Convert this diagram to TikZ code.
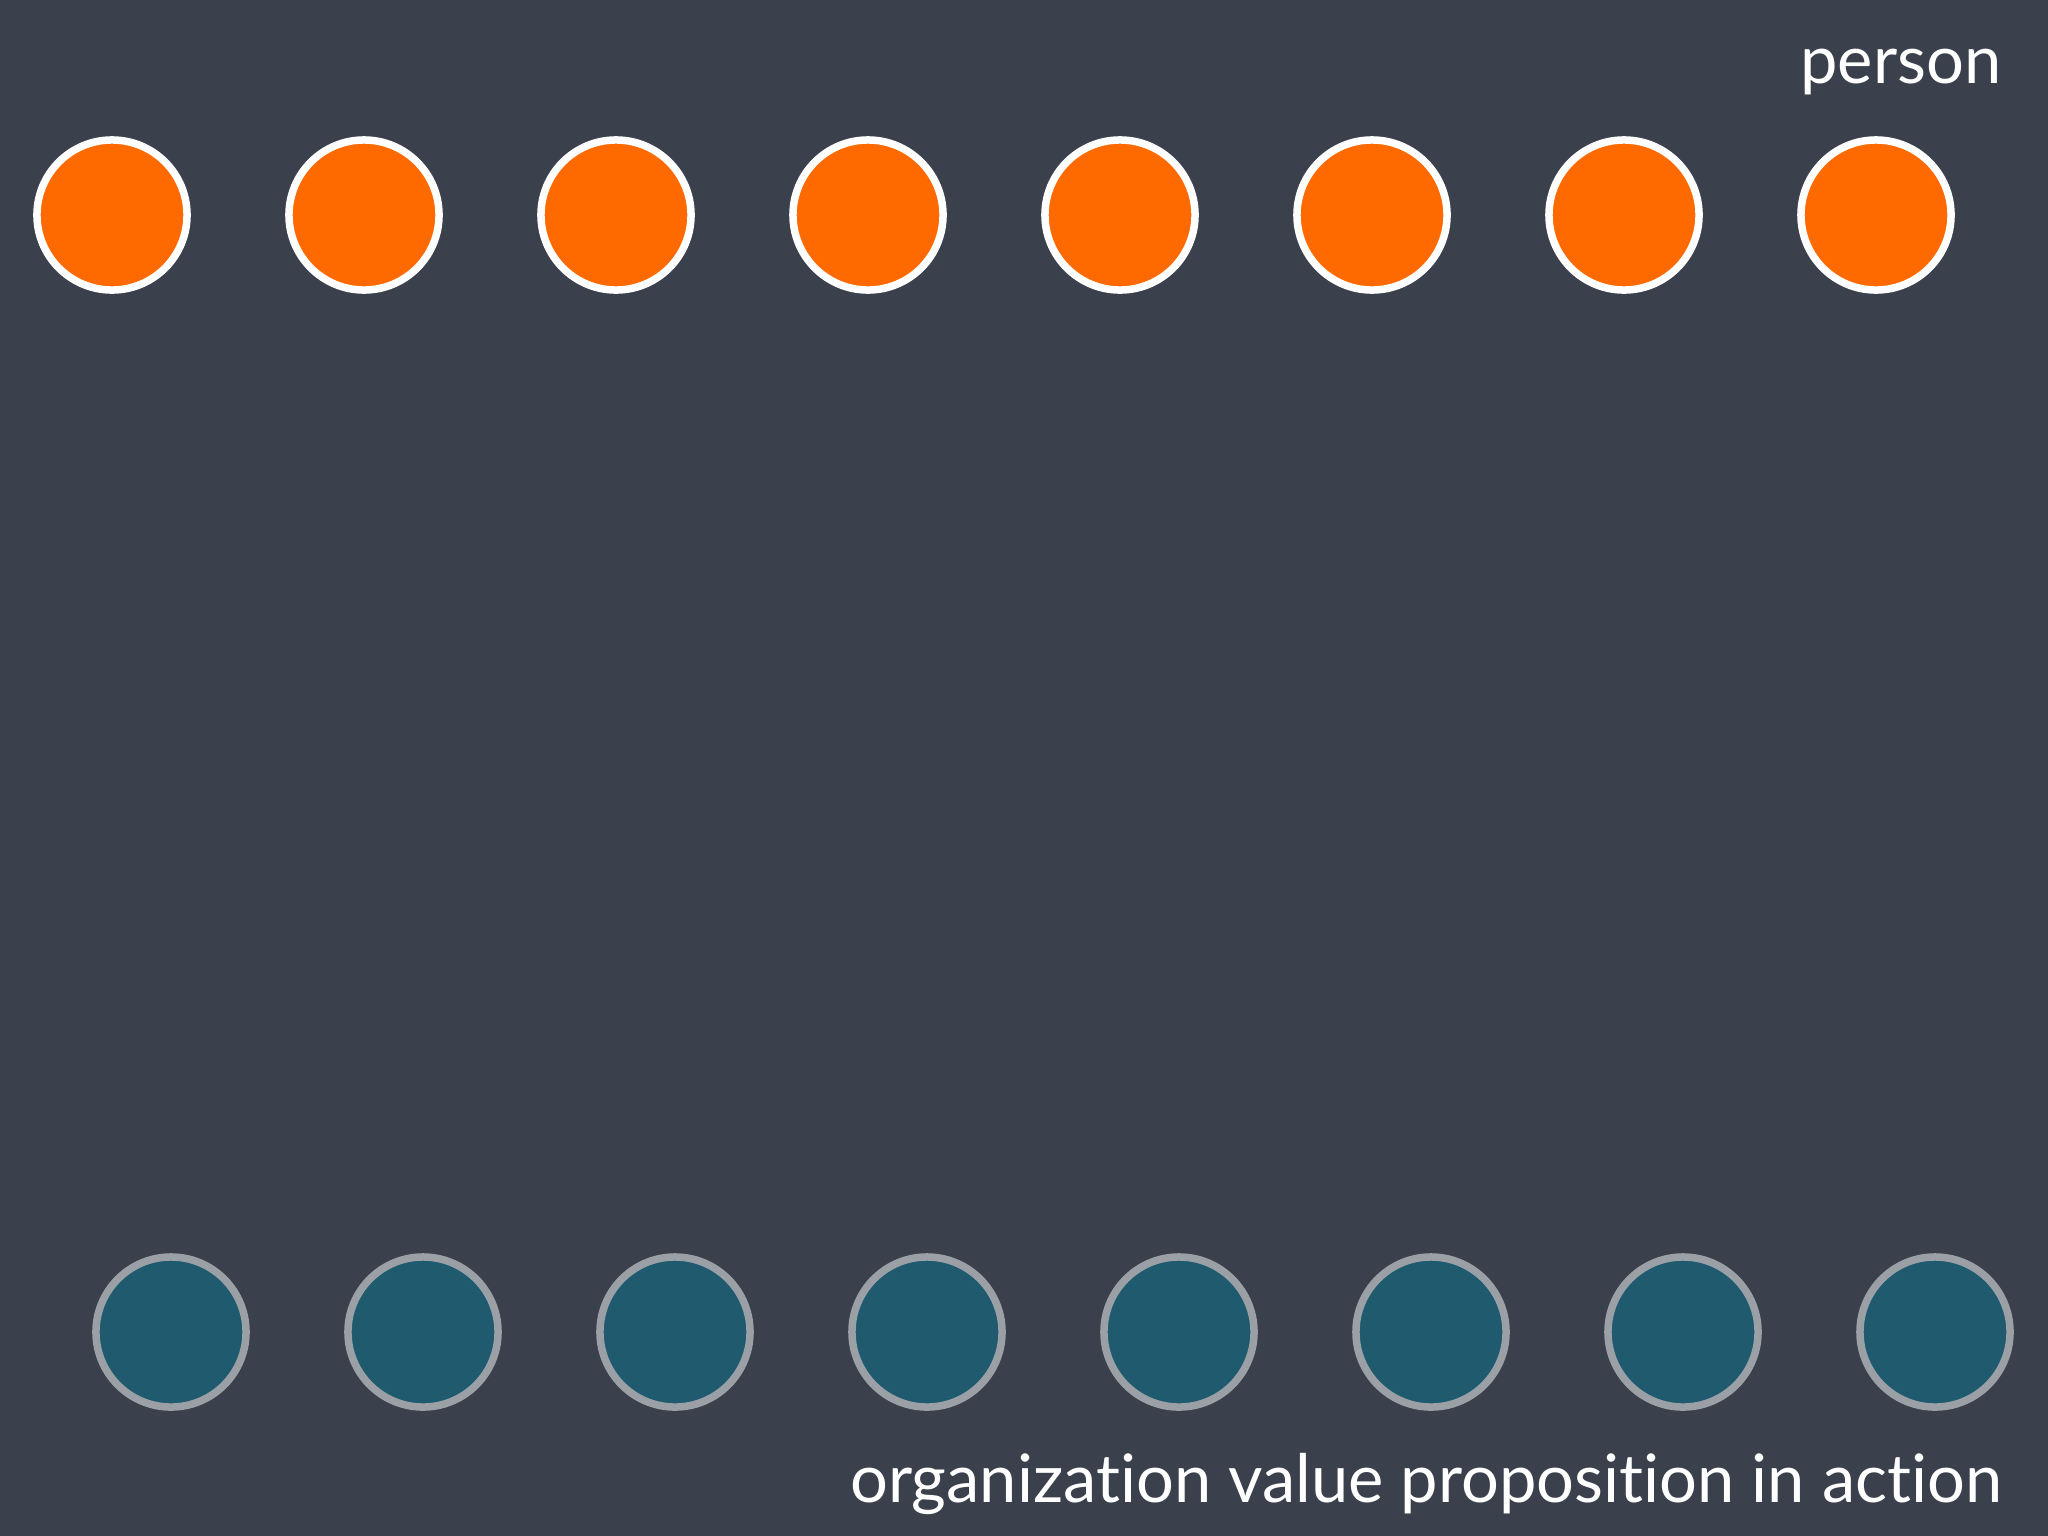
\documentclass[tikz,border=0pt]{standalone}
\usepackage{fontspec}
\setmainfont{Lato}[Ligatures=NoCommon]
\definecolor{slate}{HTML}{3A414C}
\definecolor{personorange}{HTML}{FF6A00}
\definecolor{orgteal}{HTML}{1F5A6E}
\definecolor{orgrim}{HTML}{9AA0A6}
\tikzset{
    person/.style={circle,draw=white,fill=personorange,line width=0.075cm,minimum size=1.5cm,inner sep=0pt},
    org/.style={circle,draw=orgrim,fill=orgteal,line width=0.075cm,minimum size=1.5cm,inner sep=0pt},
    caption/.style={text=white,inner sep=0pt,anchor=base east}
}
\begin{document}
\begin{tikzpicture}[x=0.01cm,y=-0.01cm]
    \fill[slate] (0,0) rectangle (2048,1536);
    %draw person row
    \foreach \i in {0,...,7}
        {%
            \node[person] (p\i) at (112+252*\i,215) {};
        }
    %draw organization row
    \foreach \i in {0,...,7}
        {%
            \node[org] (o\i) at (171+252*\i,1332) {};
        }
    %draw labels
    \node[caption,font=\fontsize{19}{22}\selectfont] (personlabel) at (2002,83) {person};
    \node[caption,font=\fontsize{19}{22}\selectfont] (orglabel) at (2003,1502) {organization value proposition in action};
\end{tikzpicture}
\end{document}
